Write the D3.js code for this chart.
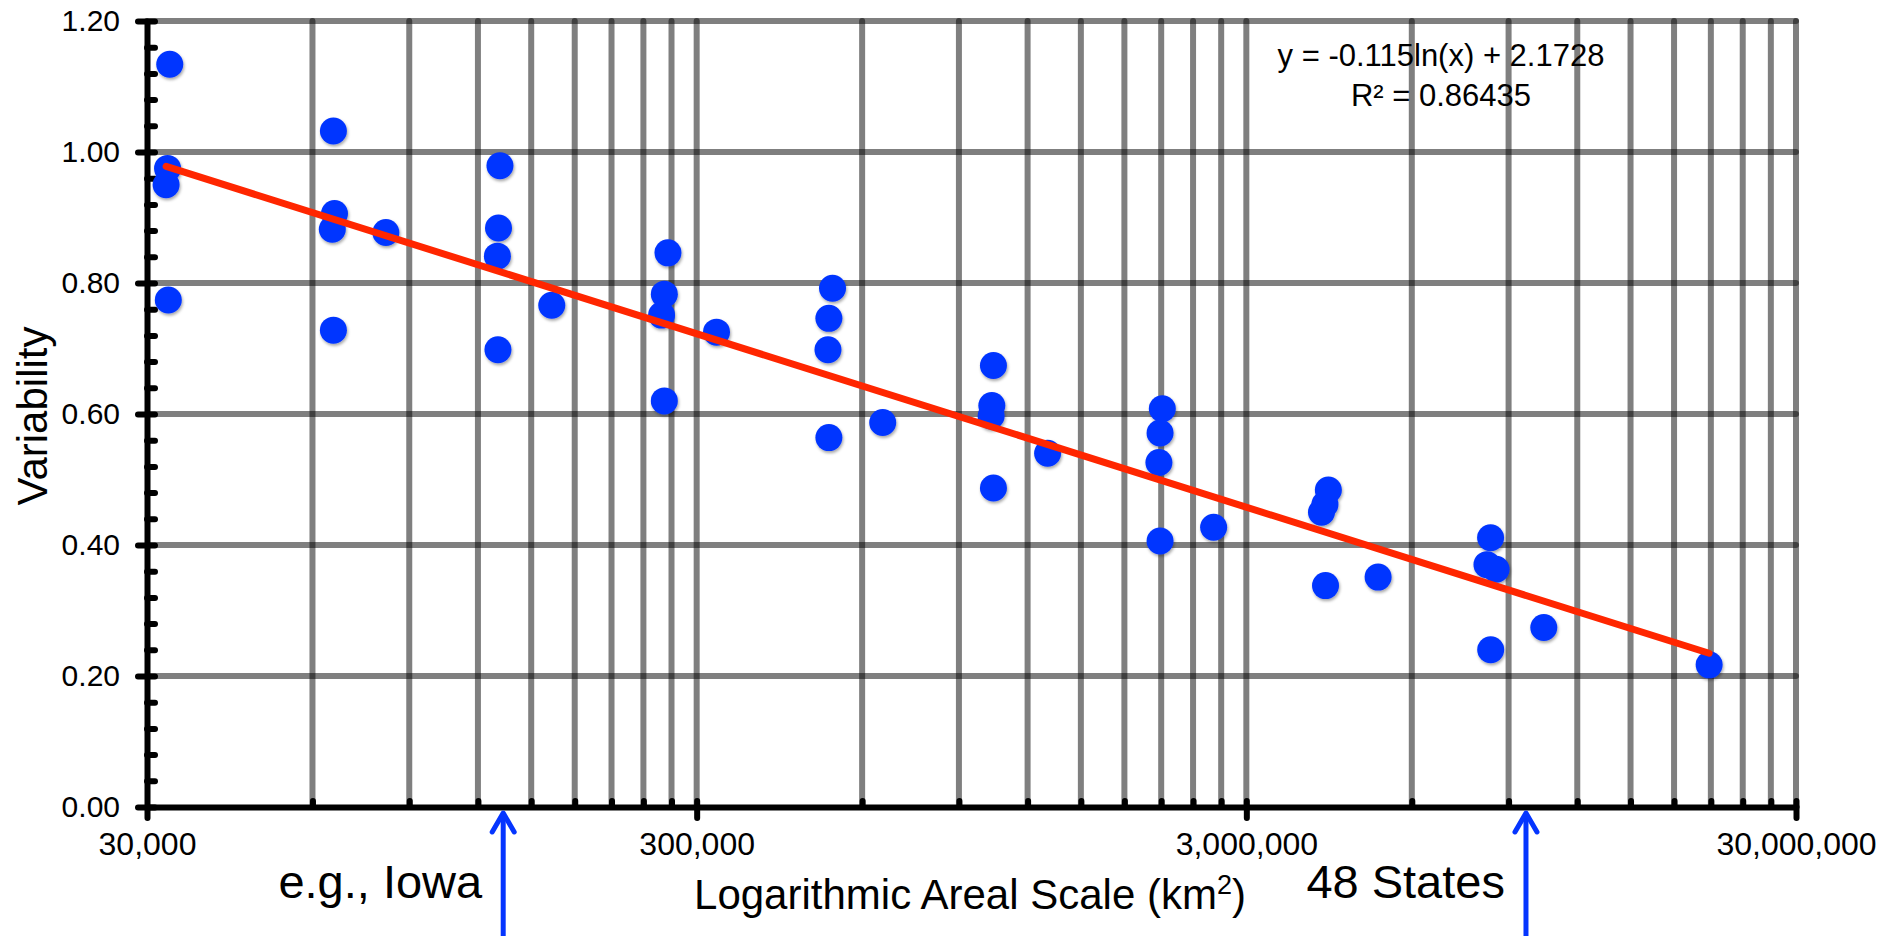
<!DOCTYPE html>
<html>
<head>
<meta charset="utf-8">
<script src="https://cdn.jsdelivr.net/npm/d3@7/dist/d3.min.js"></script>
<style>
  body { margin: 0; background: #fff; }
  svg text { font-family: "Liberation Sans", Arial, Helvetica, sans-serif; fill: #000; }
</style>
</head>
<body>
<svg id="chart" width="1881" height="936"></svg>
<script>
// area of each region (km2) and its variability
const areaKm2 = [
  33000, 32700, 32500, 32800,
  65500, 65800, 65200, 65500,
  81600,
  131600, 130800, 130200, 130500,
  163500,
  266000, 262000, 259000, 262000,
  326000,
  530000, 522000, 520000, 522000,
  654000,
  1040000, 1033000, 1030000, 1040000,
  1305000,
  2110000, 2090000, 2080000, 2090000,
  2616000,
  4230000, 4170000, 4110000, 4180000,
  5210000,
  8346000, 8220000, 8540000, 8350000,
  10430000,
  20850000
];
const variability = [
  1.134, 0.975, 0.950, 0.774,
  1.032, 0.906, 0.882, 0.728,
  0.877,
  0.979, 0.884, 0.841, 0.698,
  0.766,
  0.846, 0.783, 0.751, 0.620,
  0.725,
  0.792, 0.746, 0.698, 0.564,
  0.587,
  0.674, 0.613, 0.597, 0.487,
  0.540,
  0.608, 0.571, 0.526, 0.406,
  0.427,
  0.484, 0.462, 0.450, 0.338,
  0.351,
  0.411, 0.370, 0.363, 0.240,
  0.274,
  0.217
];

// trend line y = a*ln(x) + b, as printed on the chart
const trendCoef = [-0.115, 2.1728];
const trendText = ["y = -0.115ln(x) + 2.1728", "R\u00B2 = 0.86435"];

const yTicks = [0, 0.2, 0.4, 0.6, 0.8, 1.0, 1.2];
const xTicks = [30000, 300000, 3000000, 30000000];
const xTickLabels = ["30,000", "300,000", "3,000,000", "30,000,000"];
const gridMultipliers = [2, 3, 4, 5, 6, 7, 8, 9, 10];

const markerLabels = ["e.g., Iowa", "48 States"];
const markerArea = [133400, 9680000];

const blue = "#0535ff";
const svg = d3.select("#chart");

const x = d3.scaleLog().domain([30000, 30000000]).range([147, 1796]);
const y = d3.scaleLinear().domain([0, 1.2]).range([807, 21]);

// shadow under the dots
svg.append("defs").append("filter")
    .attr("id", "shadow")
    .attr("x", "-50%").attr("y", "-50%").attr("width", "200%").attr("height", "200%")
  .append("feDropShadow")
    .attr("dx", 1).attr("dy", 2).attr("stdDeviation", 1.5)
    .attr("flood-color", "#000").attr("flood-opacity", 0.35);

// grid values: 30000 * m * 10^k
let gridX = [];
xTicks.slice(0, 3).forEach(d => gridMultipliers.forEach(m => gridX.push(d * m)));

const grid = svg.append("g")
    .attr("stroke", "#000")
    .attr("stroke-opacity", 0.5)
    .attr("stroke-width", 6)
    .attr("stroke-linecap", "round");

grid.selectAll("line.h")
  .data(yTicks.filter(d => d > 0))
  .enter().append("line")
    .attr("class", "h")
    .attr("x1", x(30000)).attr("x2", x(30000000))
    .attr("y1", d => y(d)).attr("y2", d => y(d));

grid.selectAll("line.v")
  .data(gridX)
  .enter().append("line")
    .attr("class", "v")
    .attr("x1", d => x(d)).attr("x2", d => x(d))
    .attr("y1", y(0)).attr("y2", y(1.2));

// axes
function styleAxis(g, fontSize) {
  g.attr("font-family", null).attr("font-size", fontSize);
  g.select(".domain").attr("stroke", "#000").attr("stroke-width", 6);
  g.selectAll(".tick line").attr("stroke", "#000").attr("stroke-width", 6).attr("stroke-linecap", "round");
  g.selectAll(".tick text").attr("fill", "#000");
}

// small inner ticks first
svg.append("g")
    .attr("transform", `translate(${x(30000)},0)`)
    .call(d3.axisLeft(y).tickValues(d3.range(0, 1.2001, 0.04)).tickSize(-8).tickFormat(""))
    .call(g => { styleAxis(g, 10); g.select(".domain").remove(); });

svg.append("g")
    .attr("transform", `translate(0,${y(0)})`)
    .call(d3.axisBottom(x).tickValues(gridX).tickSize(-6).tickFormat(""))
    .call(g => { styleAxis(g, 10); g.select(".domain").remove(); });

svg.append("g")
    .attr("transform", `translate(${x(30000)},0)`)
    .call(d3.axisLeft(y).tickValues(yTicks).tickFormat(d3.format(".2f"))
      .tickSize(9).tickSizeOuter(0).tickPadding(18))
    .call(g => styleAxis(g, 30));

svg.append("g")
    .attr("transform", `translate(0,${y(0)})`)
    .call(d3.axisBottom(x).tickValues(xTicks).tickFormat((d, i) => xTickLabels[i])
      .tickSize(11).tickSizeOuter(0).tickPadding(14))
    .call(g => styleAxis(g, 32));

// points
const pts = areaKm2.map((a, i) => ({ a: a, v: variability[i] }));
svg.append("g")
    .attr("filter", "url(#shadow)")
  .selectAll("circle")
  .data(pts)
  .enter().append("circle")
    .attr("cx", d => x(d.a))
    .attr("cy", d => y(d.v))
    .attr("r", 13.5)
    .attr("fill", blue);

// trend line over the data range
const ext = d3.extent(areaKm2);
svg.append("path")
    .datum(ext)
    .attr("fill", "none")
    .attr("stroke", "#ff2600")
    .attr("stroke-width", 7)
    .attr("stroke-linecap", "round")
    .attr("d", d3.line().x(d => x(d)).y(d => y(trendCoef[0] * Math.log(d) + trendCoef[1])));

svg.selectAll("text.eq")
  .data(trendText)
  .enter().append("text")
    .attr("class", "eq")
    .attr("x", 1441)
    .attr("y", (d, i) => 66 + i * 40)
    .attr("text-anchor", "middle")
    .attr("font-size", 31)
    .text(d => d);

// marker arrows below the axis
const markers = svg.append("g");
markerArea.forEach((a, i) => {
  const ax = x(a);
  markers.append("line")
      .attr("x1", ax).attr("x2", ax)
      .attr("y1", 940).attr("y2", 814)
      .attr("stroke", blue).attr("stroke-width", 5);
  markers.append("path")
      .attr("d", d3.line()([[ax - 11, 832], [ax, 813], [ax + 11, 832]]))
      .attr("fill", "none")
      .attr("stroke", blue).attr("stroke-width", 5)
      .attr("stroke-linecap", "round").attr("stroke-linejoin", "round");
  markers.append("text")
      .attr("x", ax - 21)
      .attr("y", 898)
      .attr("text-anchor", "end")
      .attr("font-size", 47)
      .text(markerLabels[i]);
});

// axis titles
const xt = svg.append("text")
    .attr("x", 970)
    .attr("y", 909)
    .attr("text-anchor", "middle")
    .attr("font-size", 42)
    .text("Logarithmic Areal Scale (km");
xt.append("tspan").attr("dy", -15).attr("font-size", 27).text("2");
xt.append("tspan").attr("dy", 15).text(")");

svg.append("text")
    .attr("transform", "translate(47,416) rotate(-90)")
    .attr("text-anchor", "middle")
    .attr("font-size", 42)
    .text("Variability");
</script>
</body>
</html>
